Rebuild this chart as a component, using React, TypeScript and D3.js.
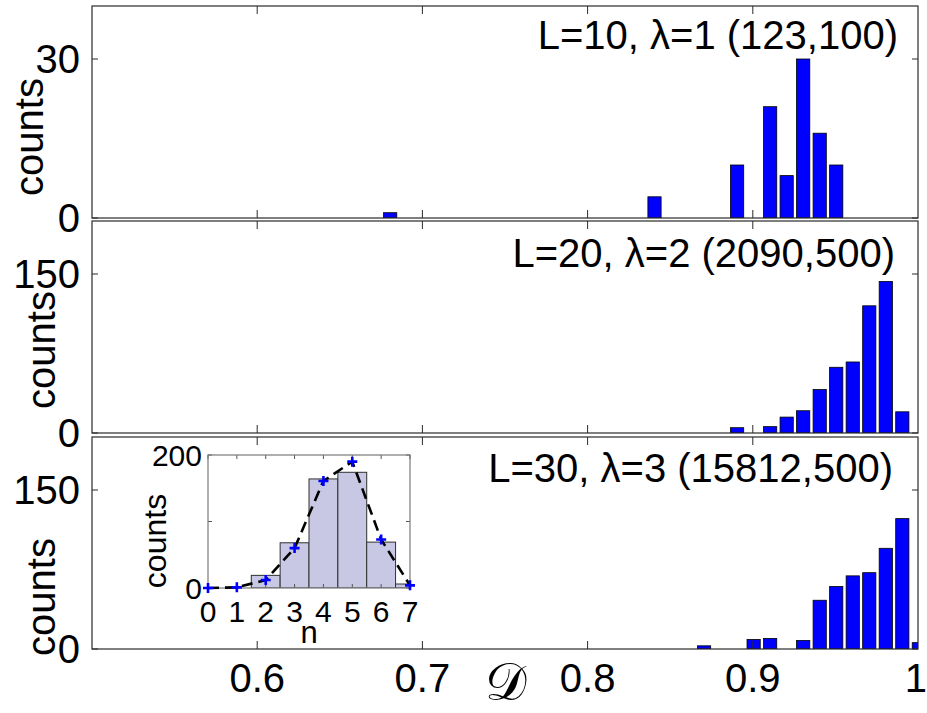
import React from 'react';
import * as d3 from 'd3';

// histogram bins (bin centres in D, counts)
const topCenters = [0.6805, 0.8405, 0.8905, 0.9105, 0.9205, 0.9305, 0.9405, 0.9505];
const topCounts = [1, 4, 10, 21, 8, 30, 16, 10];
const midCenters = [0.8905, 0.9105, 0.9205, 0.9305, 0.9405, 0.9505, 0.9605, 0.9705, 0.9805, 0.9905];
const midCounts = [5, 6, 15, 21, 41, 62, 67, 120, 143, 20];
const botCenters = [0.8705, 0.9005, 0.9105, 0.9305, 0.9405, 0.9505, 0.9605, 0.9705, 0.9805, 0.9905, 1.0005];
const botCounts = [3, 9, 10, 8, 46, 59, 69, 72, 95, 123, 6];

const panelTitles = ['L=10, \u03bb=1 (123,100)', 'L=20, \u03bb=2 (2090,500)', 'L=30, \u03bb=3 (15812,500)'];
const panelYMax = [40, 200, 200];
const panelYTicks = [[0, 30], [0, 150], [0, 150]];
const xTicks = [0.6, 0.7, 0.8, 0.9, 1];

// inset: distribution of n
const insetN = [0, 1, 2, 3, 4, 5, 6, 7];
const insetCounts = [0, 0, 19, 68, 164, 174, 69, 6];
const insetTheory = [0, 1, 12, 60, 161, 190, 73, 4];
const insetYTicks = [0, 100, 200];
const insetYLabels = ['0', '', '200'];

const FONT = '"Liberation Sans", Arial, sans-serif';
const W = 927;
const H = 713;
const left = 92;
const right = 918;
const panelTops = [6, 221, 437];
const panelH = 212;
const barW = 0.008;
const axisColor = '#2a2a2a';

const x = d3.scaleLinear().domain([0.5, 1]).range([left, right]);

type PanelProps = {
  idx: number;
  centers: number[];
  counts: number[];
  labelX: number;
  labelY: number;
  titleY: number;
  titleX: number;
};

function Panel({idx, centers, counts, labelX, labelY, titleY, titleX}: PanelProps) {
  const top = panelTops[idx];
  const bottom = top + panelH;
  const y = d3.scaleLinear().domain([0, panelYMax[idx]]).range([bottom, top]);
  const clipId = `clip${idx}`;
  const tl = 8;
  return (
    <g>
      <clipPath id={clipId}>
        <rect x={left} y={top} width={right - left} height={panelH} />
      </clipPath>
      <rect x={left} y={top} width={right - left} height={panelH} fill="#fff" />
      <g clipPath={`url(#${clipId})`}>
        {centers.map((c, i) => (
          <rect
            key={i}
            x={x(c - barW / 2)}
            y={y(counts[i])}
            width={x(c + barW / 2) - x(c - barW / 2)}
            height={y(0) - y(counts[i])}
            fill="#0000ff"
            stroke="#000"
            strokeWidth={0.8}
          />
        ))}
      </g>
      {/* ticks, inward on all four sides */}
      {xTicks.slice(0, 4).map(t => (
        <g key={t} stroke={axisColor} strokeWidth={1}>
          <line x1={x(t)} x2={x(t)} y1={bottom} y2={bottom - tl} />
          <line x1={x(t)} x2={x(t)} y1={top} y2={top + tl} />
        </g>
      ))}
      {panelYTicks[idx].map(t => (
        <g key={t}>
          <line x1={left} x2={left + 6} y1={y(t)} y2={y(t)} stroke={axisColor} />
          <line x1={right} x2={right - 6} y1={y(t)} y2={y(t)} stroke={axisColor} />
          <text
            x={80}
            y={y(t)}
            textAnchor="end"
            dominantBaseline="central"
            fontSize={40}
            fontFamily={FONT}
          >
            {t}
          </text>
        </g>
      ))}
      <rect x={left} y={top} width={right - left} height={panelH} fill="none" stroke={axisColor} strokeWidth={1.2} />
      <text
        transform={`translate(${labelX},${labelY}) rotate(-90)`}
        textAnchor="middle"
        fontSize={40}
        fontFamily={FONT}
      >
        counts
      </text>
      <text x={titleX} y={titleY} textAnchor="end" fontSize={40} fontFamily={FONT}>
        {panelTitles[idx]}
      </text>
    </g>
  );
}

function Inset() {
  const x0 = 208;
  const x1 = 410;
  const y0 = 455;
  const y1 = 588;
  const ix = d3.scaleLinear().domain([0, 7]).range([x0, x1]);
  const iy = d3.scaleLinear().domain([0, 200]).range([y1, y0]);
  const line = d3
    .line<number>()
    .x((d, i) => ix(insetN[i]))
    .y(d => iy(d));
  const tl = 4;
  return (
    <g>
      <clipPath id="insetclip">
        <rect x={x0} y={y0} width={x1 - x0} height={y1 - y0} />
      </clipPath>
      <rect x={x0} y={y0} width={x1 - x0} height={y1 - y0} fill="#fff" />
      <g clipPath="url(#insetclip)">
        {insetN.map((n, i) =>
          insetCounts[i] > 0 ? (
            <rect
              key={n}
              x={ix(n - 0.5)}
              y={iy(insetCounts[i])}
              width={ix(n + 0.5) - ix(n - 0.5)}
              height={iy(0) - iy(insetCounts[i])}
              fill="#c8c8e4"
              stroke="#303030"
              strokeWidth={1}
            />
          ) : null
        )}
      </g>
      {insetN.map(n => (
        <g key={n}>
          <line x1={ix(n)} x2={ix(n)} y1={y1} y2={y1 - tl} stroke="#555" />
          <line x1={ix(n)} x2={ix(n)} y1={y0} y2={y0 + tl} stroke="#555" />
          <text x={ix(n)} y={622} textAnchor="middle" fontSize={30} fontFamily={FONT}>
            {n}
          </text>
        </g>
      ))}
      {insetYTicks.map((t, i) => (
        <g key={t}>
          <line x1={x0} x2={x0 + tl} y1={iy(t)} y2={iy(t)} stroke="#555" />
          <line x1={x1} x2={x1 - tl} y1={iy(t)} y2={iy(t)} stroke="#555" />
          <text x={202} y={iy(t)} textAnchor="end" dominantBaseline="central" fontSize={30} fontFamily={FONT}>
            {insetYLabels[i]}
          </text>
        </g>
      ))}
      <rect x={x0} y={y0} width={x1 - x0} height={y1 - y0} fill="none" stroke="#7a7a7a" strokeWidth={1.2} />
      <path d={line(insetTheory) || ''} fill="none" stroke="#000" strokeWidth={2.6} strokeDasharray="11,6" />
      {insetN.map((n, i) => (
        <path
          key={n}
          transform={`translate(${ix(n)},${iy(insetTheory[i])})`}
          d="M-5,0H5M0,-5V5"
          stroke="#0000ff"
          strokeWidth={2.6}
        />
      ))}
      <text x={(x0 + x1) / 2} y={643} textAnchor="middle" fontSize={31} fontFamily={FONT}>
        n
      </text>
      <text
        transform={`translate(166,541) rotate(-90)`}
        textAnchor="middle"
        fontSize={32}
        fontFamily={FONT}
      >
        counts
      </text>
    </g>
  );
}

export default function App() {
  return (
    <svg
      width={W}
      height={H}
      viewBox={`0 0 ${W} ${H}`}
      style={{position: 'absolute', left: 0, top: 0, background: '#fff'}}
    >
      <rect width={W} height={H} fill="#fff" />
      <Panel idx={0} centers={topCenters} counts={topCounts} labelX={43} labelY={137} titleX={898} titleY={49} />
      <Panel idx={1} centers={midCenters} counts={midCounts} labelX={55} labelY={350} titleX={895} titleY={267} />
      <Panel idx={2} centers={botCenters} counts={botCounts} labelX={55} labelY={597} titleX={893} titleY={482} />
      <Inset />
      {xTicks.map(t => (
        <text
          key={t}
          x={t === 1 ? W : x(t)}
          y={692}
          textAnchor={t === 1 ? 'end' : 'middle'}
          fontSize={40}
          fontFamily={FONT}
        >
          {t}
        </text>
      ))}
      <text x={506} y={700} textAnchor="middle" fontSize={52} fontFamily={'"DejaVu Serif", serif'}>
        {'\ud835\udc9f'}
      </text>
    </svg>
  );
}
